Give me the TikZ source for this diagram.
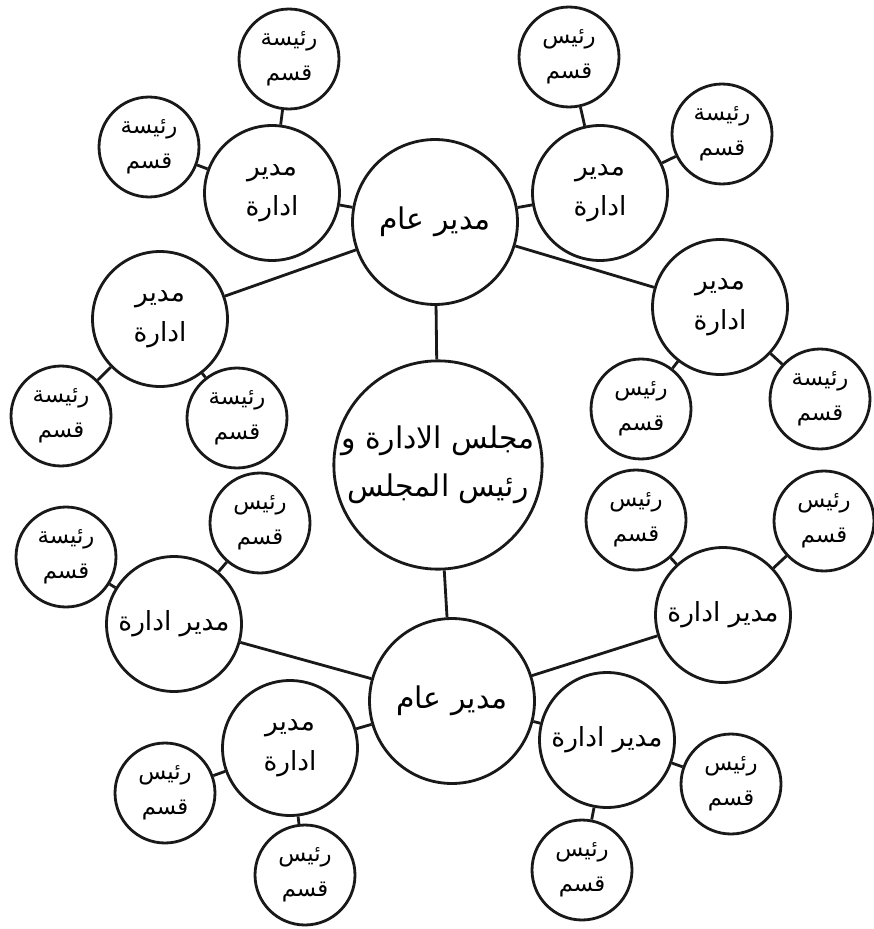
\documentclass[tikz,border=0pt]{standalone}
\usepackage{fontspec}
\usepackage{tikz}
\usetikzlibrary{positioning}
\newfontfamily\arabicfont[Script=Arabic]{DejaVu Sans}
\TeXXeTstate=1
\definecolor{ink}{RGB}{25,25,25}
\tikzset{
    big/.style={circle,draw=ink,line width=1.6pt,minimum size=3.3cm,inner sep=0pt,align=center,font=\arabicfont\fontsize{17}{27}\selectfont},
    mid/.style={circle,draw=ink,line width=1.6pt,minimum size=2.7cm,inner sep=0pt,align=center,font=\arabicfont\fontsize{15}{23}\selectfont},
    small/.style={circle,draw=ink,line width=1.6pt,minimum size=2cm,inner sep=0pt,align=center,font=\arabicfont\fontsize{13}{20}\selectfont},
    link/.style={draw=ink,line width=1.6pt},
}
\newcommand{\ar}[1]{\beginR #1\endR}

\begin{document}
\begin{tikzpicture}[x=0.02cm,y=-0.02cm]
\useasboundingbox (0,0) rectangle (873,929);
% board and the two general managers
\node[big] (board) at (438,465) {\ar{مجلس الادارة و}\\\ar{رئيس المجلس}};
\node[big] (gmt)   at (435,222) {\ar{مدير عام}};
\node[big] (gmb)   at (452,701) {\ar{مدير عام}};
% department managers
\node[mid] (mtl) at (272,193) {\ar{مدير}\\\ar{ادارة}};
\node[mid] (mtr) at (600,193) {\ar{مدير}\\\ar{ادارة}};
\node[mid] (ml)  at (160,319) {\ar{مدير}\\\ar{ادارة}};
\node[mid] (mr)  at (720,307) {\ar{مدير}\\\ar{ادارة}};
\node[mid] (mll) at (174,624) {\ar{مدير ادارة}};
\node[mid] (mlr) at (723,615) {\ar{مدير ادارة}};
\node[mid] (mbl) at (290,748) {\ar{مدير}\\\ar{ادارة}};
\node[mid] (mbr) at (607,740) {\ar{مدير ادارة}};
% section heads
\node[small] (h1)  at (289,59)  {\ar{رئيسة}\\\ar{قسم}};
\node[small] (h2)  at (149,147) {\ar{رئيسة}\\\ar{قسم}};
\node[small] (h3)  at (569,57)  {\ar{رئيس}\\\ar{قسم}};
\node[small] (h4)  at (722,134) {\ar{رئيسة}\\\ar{قسم}};
\node[small] (h5)  at (61,416)  {\ar{رئيسة}\\\ar{قسم}};
\node[small] (h6)  at (237,418) {\ar{رئيسة}\\\ar{قسم}};
\node[small] (h7)  at (641,409) {\ar{رئيس}\\\ar{قسم}};
\node[small] (h8)  at (820,399) {\ar{رئيسة}\\\ar{قسم}};
\node[small] (h9)  at (66,557)  {\ar{رئيسة}\\\ar{قسم}};
\node[small] (h10) at (260,523) {\ar{رئيس}\\\ar{قسم}};
\node[small] (h11) at (636,520) {\ar{رئيس}\\\ar{قسم}};
\node[small] (h12) at (824,521) {\ar{رئيس}\\\ar{قسم}};
\node[small] (h13) at (165,793) {\ar{رئيس}\\\ar{قسم}};
\node[small] (h14) at (305,875) {\ar{رئيس}\\\ar{قسم}};
\node[small] (h15) at (731,784) {\ar{رئيس}\\\ar{قسم}};
\node[small] (h16) at (582,870) {\ar{رئيس}\\\ar{قسم}};
% links
\draw[link] (gmt) -- (board);
\draw[link] (board) -- (gmb);
\draw[link] (gmt) -- (mtl);
\draw[link] (gmt) -- (mtr);
\draw[link] (gmt) -- (ml);
\draw[link] (gmt) -- (mr);
\draw[link] (gmb) -- (mll);
\draw[link] (gmb) -- (mlr);
\draw[link] (gmb) -- (mbl);
\draw[link] (gmb) -- (mbr);
\draw[link] (mtl) -- (h1);
\draw[link] (mtl) -- (h2);
\draw[link] (mtr) -- (h3);
\draw[link] (mtr) -- (h4);
\draw[link] (ml)  -- (h5);
\draw[link] (ml)  -- (h6);
\draw[link] (mr)  -- (h7);
\draw[link] (mr)  -- (h8);
\draw[link] (mll) -- (h9);
\draw[link] (mll) -- (h10);
\draw[link] (mlr) -- (h11);
\draw[link] (mlr) -- (h12);
\draw[link] (mbl) -- (h13);
\draw[link] (mbl) -- (h14);
\draw[link] (mbr) -- (h15);
\draw[link] (mbr) -- (h16);
\end{tikzpicture}
\end{document}
